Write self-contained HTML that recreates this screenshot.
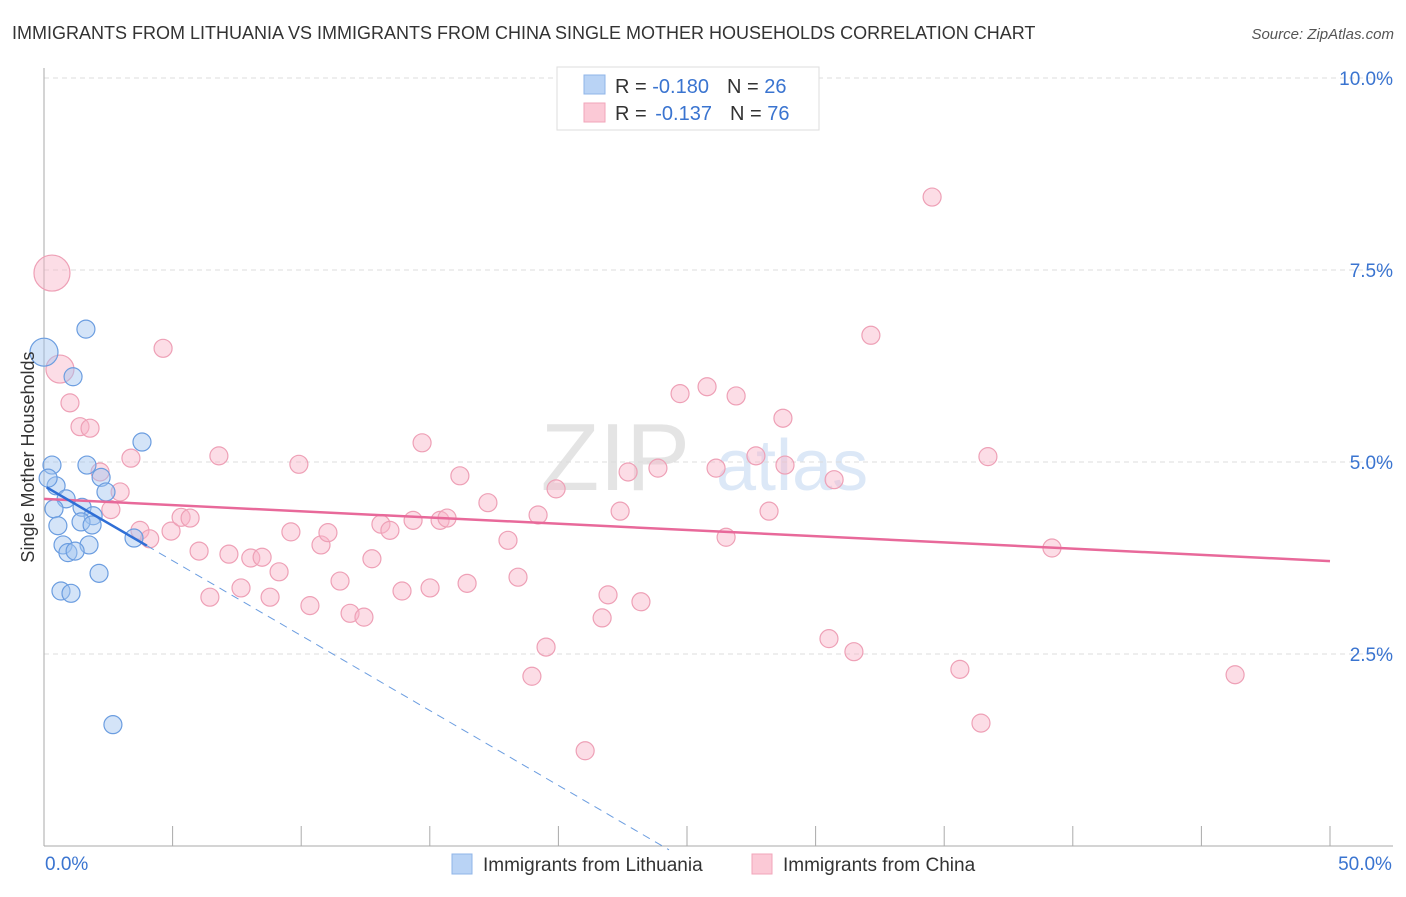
<!DOCTYPE html>
<html><head><meta charset="utf-8"><style>
body{margin:0;background:#fff;font-family:"Liberation Sans",sans-serif;}
svg text{font-family:"Liberation Sans",sans-serif;}
</style></head><body>
<svg id="chart" width="1406" height="892" xmlns="http://www.w3.org/2000/svg">
<text x="12" y="39" font-size="18" fill="#333">IMMIGRANTS FROM LITHUANIA VS IMMIGRANTS FROM CHINA SINGLE MOTHER HOUSEHOLDS CORRELATION CHART</text>
<text x="1394" y="39" font-size="15" fill="#555" font-style="italic" text-anchor="end">Source: ZipAtlas.com</text>
<text x="690" y="490" font-size="96" fill="#e4e4e4" text-anchor="end" font-family="Liberation Serif">ZIP</text>
<text x="716" y="490" font-size="72" fill="#dce8f7">atlas</text>
<g id="grid"></g><g id="axes"></g><g id="marks"></g>
<text transform="translate(34,457) rotate(-90)" font-size="18" fill="#333" text-anchor="middle">Single Mother Households</text>
<g>
<rect x="557" y="67" width="262" height="63" fill="#fff" stroke="#ddd"/>
<rect x="584" y="75" width="21" height="19" fill="#b9d3f5" stroke="#8fb5e8"/>
<rect x="584" y="103" width="21" height="19" fill="#fbc9d6" stroke="#f2a5ba"/>
<text x="615" y="93" font-size="20" fill="#333">R = <tspan fill="#3a74d0">-0.180</tspan><tspan dx="18">N = </tspan><tspan fill="#3a74d0">26</tspan></text>
<text x="615" y="120" font-size="20" fill="#333">R = <tspan fill="#3a74d0" dx="3">-0.137</tspan><tspan dx="18">N = </tspan><tspan fill="#3a74d0">76</tspan></text>
</g>
<g>
<rect x="452" y="854" width="20" height="20" fill="#b9d3f5" stroke="#8fb5e8"/>
<text x="483" y="871" font-size="19" fill="#333">Immigrants from Lithuania</text>
<rect x="752" y="854" width="20" height="20" fill="#fbc9d6" stroke="#f2a5ba"/>
<text x="783" y="871" font-size="19" fill="#333">Immigrants from China</text>
</g>
</svg>
<script>
const blueX=[0.0,1.63,1.13,3.81,0.31,1.67,0.47,2.22,0.86,2.41,0.39,1.48,1.91,0.54,1.44,1.87,3.50,0.74,1.75,0.93,1.21,2.14,0.66,1.05,2.68,0.16];
const blueY=[6.43,6.73,6.11,5.26,4.96,4.96,4.69,4.80,4.52,4.61,4.39,4.41,4.30,4.17,4.22,4.18,4.01,3.92,3.92,3.82,3.84,3.55,3.32,3.29,1.58,4.79];
const blueR=[14,9,9,9,9,9,9,9,9,9,9,9,9,9,9,9,9,9,9,9,9,9,9,9,9,9];
const pinkX=[0.31,0.62,1.01,1.40,1.79,4.63,3.38,2.18,2.96,2.60,3.73,4.11,4.94,5.33,5.68,6.03,6.45,6.80,7.19,7.66,8.04,8.48,8.79,9.14,9.60,9.91,10.34,10.77,11.04,11.51,11.90,12.44,12.75,13.10,13.45,13.92,14.35,14.70,15.01,15.40,15.67,16.17,16.45,17.26,18.04,18.43,18.97,19.21,19.52,19.91,21.04,21.70,21.93,22.40,22.71,23.21,23.87,24.73,25.78,26.13,26.52,26.91,27.68,28.19,28.73,28.81,30.52,30.72,31.49,32.15,34.53,35.61,36.43,36.70,39.19,46.31];
const pinkY=[7.46,6.21,5.77,5.46,5.44,6.48,5.05,4.87,4.61,4.38,4.11,4.0,4.10,4.28,4.27,3.84,3.24,5.08,3.80,3.36,3.75,3.76,3.24,3.57,4.09,4.97,3.13,3.92,4.08,3.45,3.03,2.98,3.74,4.19,4.11,3.32,4.24,5.25,3.36,4.24,4.27,4.82,3.42,4.47,3.98,3.50,2.21,4.31,2.59,4.65,1.24,2.97,3.27,4.36,4.87,3.18,4.92,5.89,5.98,4.92,4.02,5.86,5.08,4.36,5.57,4.96,2.70,4.77,2.53,6.65,8.45,2.30,1.60,5.07,3.88,2.23];
const pinkR=pinkX.map((v,i)=>i===0?18:(i===1?14:9));
const blueTrend=[[0.1,4.67],[4.0,3.91]];
const blueDash=[[4.0,3.91],[24.3,-0.05]];
const pinkTrend=[[0,4.52],[50,3.71]];
const xTicks=[0,5,10,15,20,25,30,35,40,45,50];
const yTicks=[2.5,5.0,7.5,10.0];
const yTickLabels=["2.5%","5.0%","7.5%","10.0%"];
const xAxisLabels=["0.0%","50.0%"];

const NS="http://www.w3.org/2000/svg";
const xs=v=>44+v*25.72, ys=v=>846-v*76.8;
function el(p,t,a){const e=document.createElementNS(NS,t);for(const k in a)e.setAttribute(k,a[k]);p.appendChild(e);return e;}
const grid=document.getElementById('grid'),axes=document.getElementById('axes'),marks=document.getElementById('marks');
yTicks.forEach((t,i)=>{
 const g=el(grid,'line',{x1:44,x2:1393,y1:ys(t),y2:ys(t),stroke:'#ddd','stroke-dasharray':'5,4'});
 
 
 const l=el(axes,'text',{x:1393,y:ys(t)+7,'font-size':19,fill:'#3a74d0','text-anchor':'end'});l.textContent=yTickLabels[i];
 
 
});
const ya=el(axes,'line',{x1:44,x2:44,y1:68,y2:846,stroke:'#aaa'});


const xa=el(axes,'line',{x1:44,x2:1393,y1:846,y2:846,stroke:'#aaa'});


xTicks.forEach(t=>{const k=el(axes,'line',{x1:xs(t),x2:xs(t),y1:826,y2:846,stroke:'#aaa'});
 
 });
[[0,'start',45],[50,'middle',1365]].forEach((d,i)=>{const l=el(axes,'text',{x:d[2],y:870,'font-size':19,fill:'#3a74d0','text-anchor':d[1]});l.textContent=xAxisLabels[i];
 
 });
pinkX.forEach((x,i)=>{const c=el(marks,'circle',{cx:xs(x),cy:ys(pinkY[i]),r:pinkR[i],fill:'rgba(248,180,200,0.45)',stroke:'#eea0b6','stroke-width':1.2});
 
 });
blueX.forEach((x,i)=>{const c=el(marks,'circle',{cx:xs(x),cy:ys(blueY[i]),r:blueR[i],fill:'rgba(160,195,240,0.45)',stroke:'#6b9de0','stroke-width':1.2});
 
 });
const pt=el(marks,'line',{x1:xs(pinkTrend[0][0]),y1:ys(pinkTrend[0][1]),x2:xs(pinkTrend[1][0]),y2:ys(pinkTrend[1][1]),stroke:'#e8699a','stroke-width':2.5});


const bd=el(marks,'line',{x1:xs(blueDash[0][0]),y1:ys(blueDash[0][1]),x2:xs(blueDash[1][0]),y2:ys(blueDash[1][1]),stroke:'#6b9de0','stroke-width':1,'stroke-dasharray':'8,6'});


const bt=el(marks,'line',{x1:xs(blueTrend[0][0]),y1:ys(blueTrend[0][1]),x2:xs(blueTrend[1][0]),y2:ys(blueTrend[1][1]),stroke:'#2f6fd6','stroke-width':2.5});


</script>
</body></html>
